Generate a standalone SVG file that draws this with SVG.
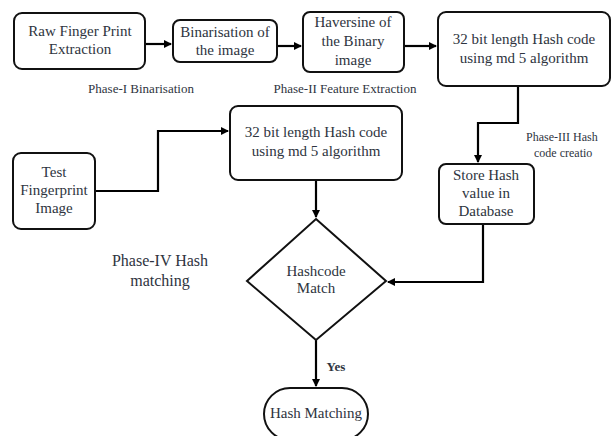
<svg xmlns="http://www.w3.org/2000/svg" width="611" height="436" viewBox="0 0 611 436" font-family="'Liberation Serif', 'Times New Roman', serif">
<defs>
<marker id="ah" markerWidth="8" markerHeight="8" refX="7" refY="4" orient="auto" markerUnits="userSpaceOnUse">
<path d="M0,0 L8,4 L0,8 Z" fill="#000"/>
</marker>
<style>
.box{fill:#fff;stroke:#111;stroke-width:2}
.t{font-family:'Liberation Serif','Times New Roman',serif;font-size:15px;fill:#2e3440;text-anchor:middle}
.lab{font-family:'Liberation Serif','Times New Roman',serif;font-size:13px;fill:#2e3440;text-anchor:middle}
.big{font-family:'Liberation Serif','Times New Roman',serif;font-size:16px;fill:#2e3440;text-anchor:middle}
.c{fill:none;stroke:#000;stroke-width:2.2}
</style>
</defs>
<rect width="611" height="436" fill="#fff"/>
<g id="connectors">
<path class="c" d="M145,44 H171" marker-end="url(#ah)"/>
<path class="c" d="M277,46 H301" marker-end="url(#ah)"/>
<path class="c" d="M404,46 H436" marker-end="url(#ah)"/>
<path class="c" d="M518,86 V123 H478 V162" marker-end="url(#ah)"/>
<path class="c" d="M95,191 H158 V131 H228" marker-end="url(#ah)"/>
<path class="c" d="M316,180 V217" marker-end="url(#ah)"/>
<path class="c" d="M483,224 V282 H388" marker-end="url(#ah)"/>
<path class="c" d="M316,340 V386" marker-end="url(#ah)"/>
<text x="336" y="371" class="t" style="font-weight:bold;font-size:13px">Yes</text>
</g>
<g id="raw">
<rect class="box" x="14" y="13" width="131" height="56" rx="8"/>
<text x="80" y="36" class="t">Raw Finger Print</text>
<text x="80" y="54" class="t">Extraction</text>
</g>
<g id="binarisation">
<rect class="box" x="173" y="20" width="104" height="42" rx="7"/>
<text x="225" y="37" class="t">Binarisation of</text>
<text x="225" y="55" class="t">the image</text>
</g>
<g id="haversine">
<rect class="box" x="303" y="12" width="101" height="60" rx="7"/>
<text x="353" y="27" class="t">Haversine of</text>
<text x="353" y="46" class="t">the Binary</text>
<text x="353" y="65" class="t">image</text>
</g>
<g id="hash1">
<rect class="box" x="438" y="12" width="172" height="74" rx="8"/>
<text x="524" y="44" class="t">32 bit length Hash code</text>
<text x="524" y="63" class="t">using md 5 algorithm</text>
</g>
<g id="labels">
<text x="141" y="93" class="lab">Phase-I Binarisation</text>
<text x="345" y="93" class="lab">Phase-II Feature Extraction</text>
<text x="526" y="141" class="lab" style="text-anchor:start;font-size:12px">Phase-III Hash</text>
<text x="534" y="157" class="lab" style="text-anchor:start;font-size:12px">code creatio</text>
<text x="160" y="266" class="big">Phase-IV Hash</text>
<text x="160" y="286" class="big">matching</text>
</g>
<g id="store">
<rect class="box" x="439" y="164" width="95" height="60" rx="7"/>
<text x="486" y="180" class="t">Store Hash</text>
<text x="486" y="198" class="t">value in</text>
<text x="486" y="216" class="t">Database</text>
</g>
<g id="hash2">
<rect class="box" x="230" y="106" width="172" height="74" rx="8"/>
<text x="316" y="137" class="t">32 bit length Hash code</text>
<text x="316" y="156" class="t">using md 5 algorithm</text>
</g>
<g id="test">
<rect class="box" x="13" y="153" width="82" height="76" rx="8"/>
<text x="54" y="177" class="t">Test</text>
<text x="54" y="195" class="t">Fingerprint</text>
<text x="54" y="213" class="t">Image</text>
</g>
<g id="match">
<polygon class="box" points="316,219 386,281 316,340 247,281"/>
<text x="316" y="276" class="t">Hashcode</text>
<text x="316" y="293" class="t">Match</text>
</g>
<g id="result">
<rect class="box" x="264" y="388" width="104" height="52" rx="26"/>
<text x="316" y="418" class="t">Hash Matching</text>
</g>
</svg>
